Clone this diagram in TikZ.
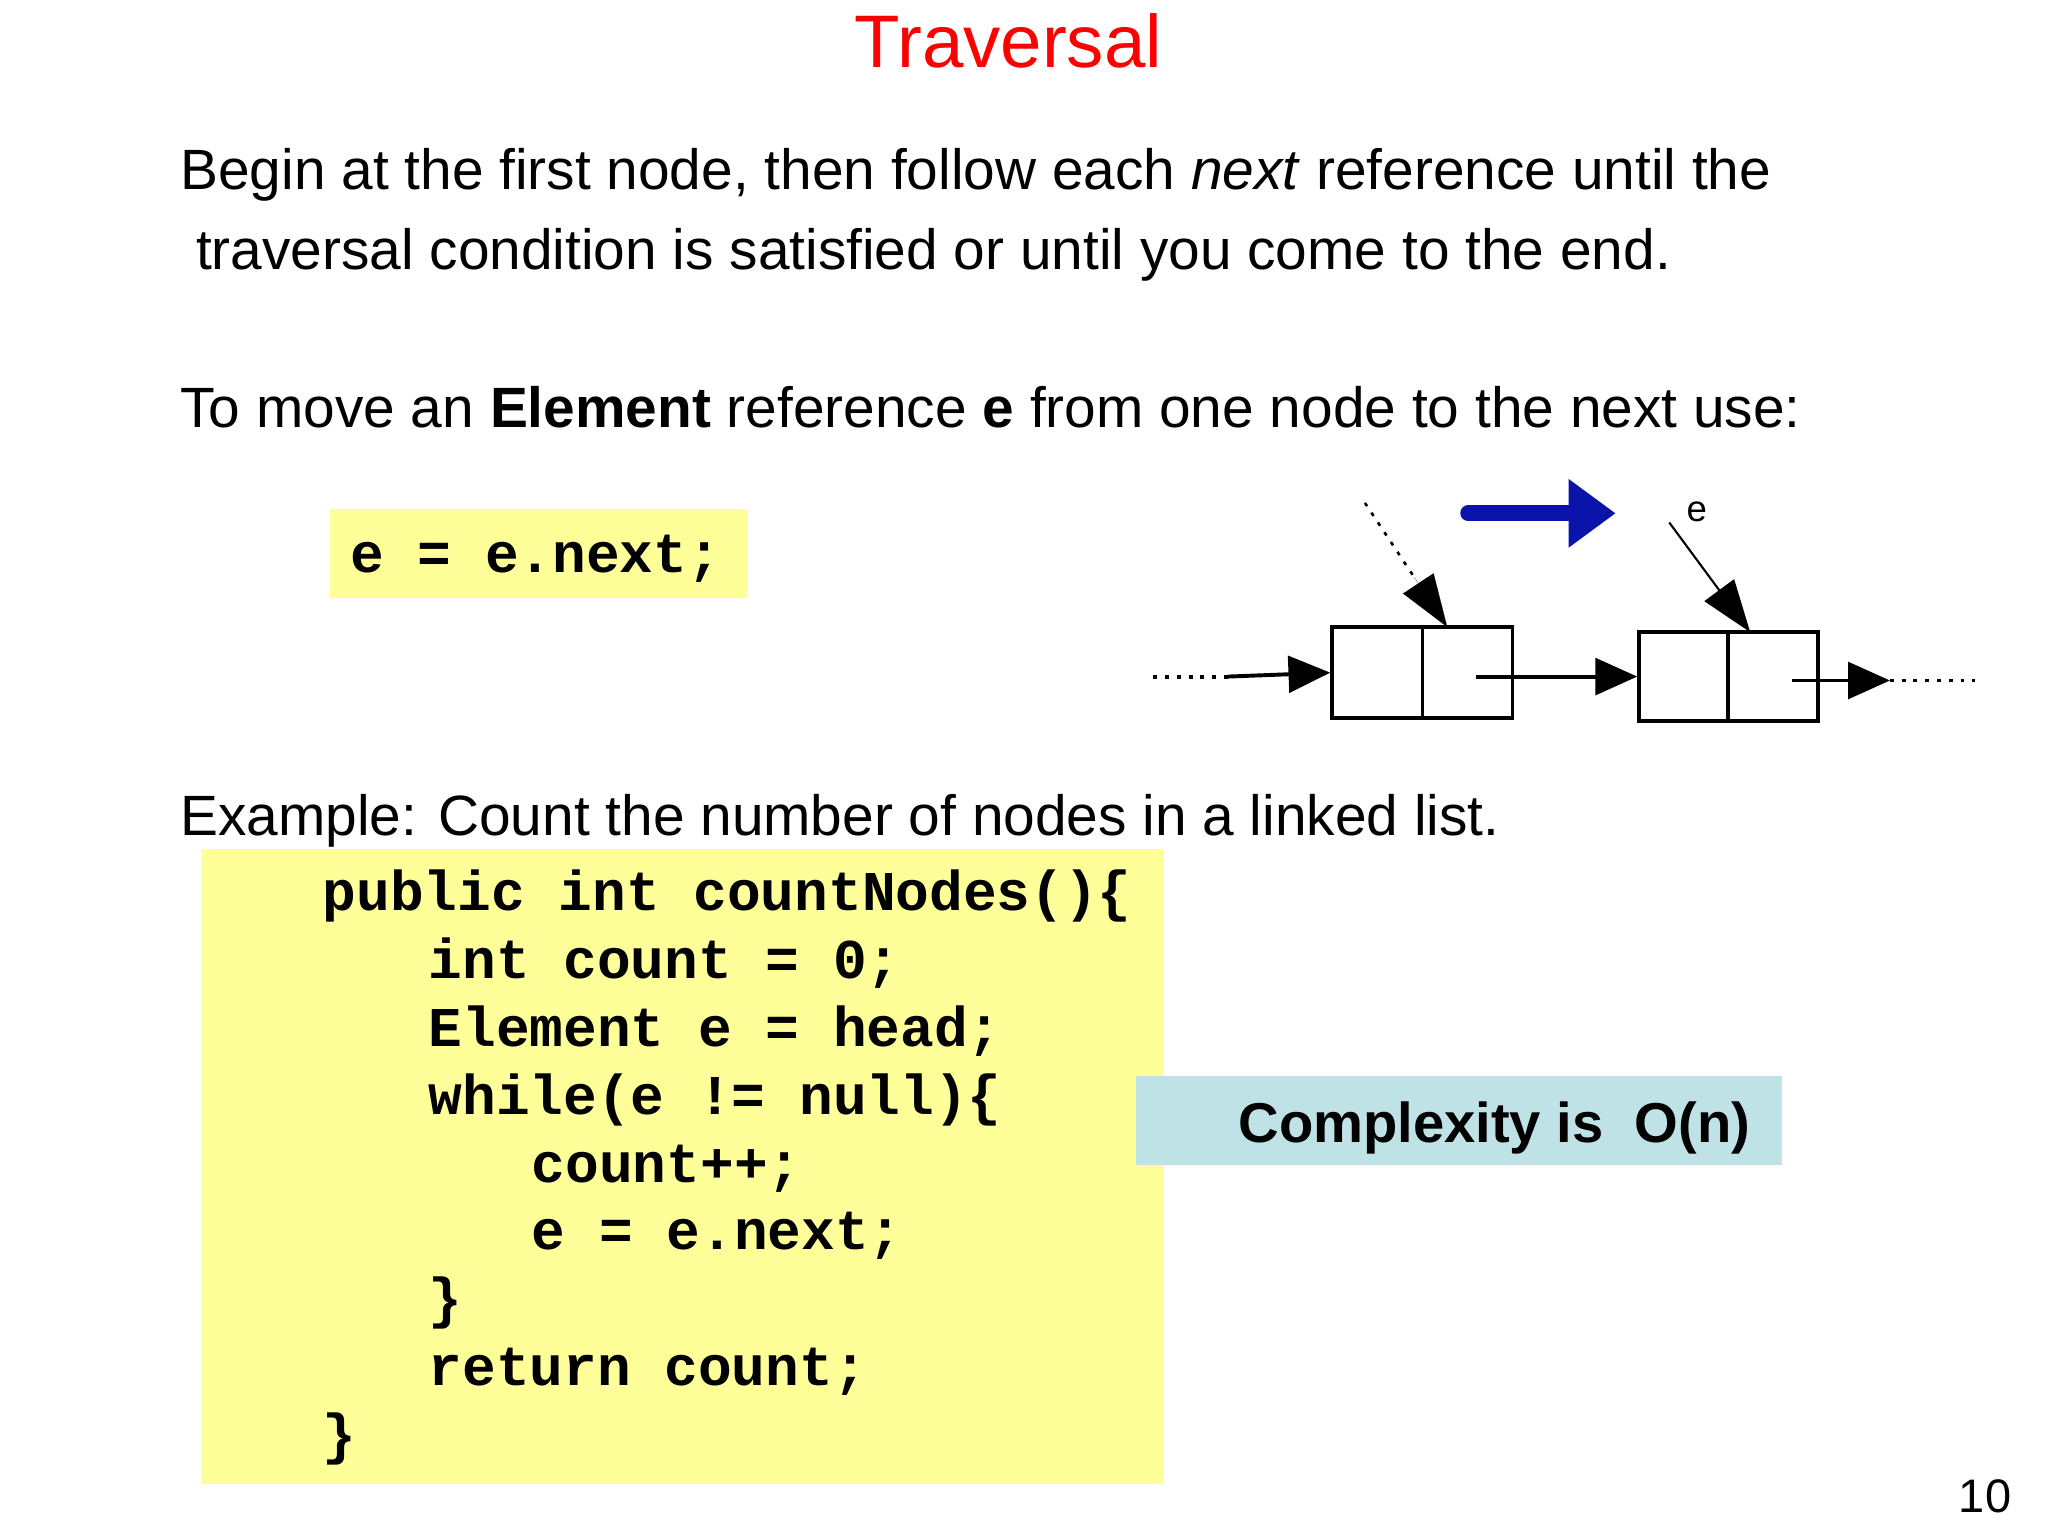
\documentclass[tikz,border=0pt]{standalone}
\usepackage{fontspec}
\setmainfont{Liberation Sans}
\newfontfamily\codefont{Liberation Mono}
\usetikzlibrary{arrows.meta,calc}
\definecolor{codeyel}{RGB}{255,255,153}
\definecolor{cblue}{RGB}{190,226,230}
\definecolor{arrblue}{RGB}{10,20,170}
\definecolor{titlered}{RGB}{255,0,0}
\begin{document}
\begin{tikzpicture}[x=1pt,y=-1pt,
  txt/.style={anchor=base west,inner sep=0,font=\fontsize{43.5}{50}\selectfont},
  code/.style={anchor=base west,inner sep=0,font=\codefont\bfseries\fontsize{43}{50}\selectfont},
  lnk/.style={line width=3pt,-{Triangle[length=32pt,width=28pt]}},
  dot/.style={line width=3pt,dash pattern=on 3pt off 6pt}]
\useasboundingbox (0,0) rectangle (1568,1176);
\fill[white] (0,0) rectangle (1568,1176);
\node[anchor=base,inner sep=0,text=titlered,font=\fontsize{57}{62}\selectfont] (title) at (772,52) {Traversal};
\node[txt] (l1) at (138,145) {Begin at the first node, then follow each \textit{next} reference until the};
\node[txt] (l2) at (150,206) {traversal condition is satisfied or until you come to the end.};
\node[txt] (l3) at (138,327) {To move an \textbf{Element} reference \textbf{e} from one node to the next use:};
\fill[codeyel] (253,390) rectangle (572,458);
\node[code] (c0) at (268,438) {e = e.next;};
% diagram
\node[draw,line width=3pt,minimum width=138pt,minimum height=70pt,inner sep=0] (b1) at (1089,515) {};
\draw[line width=2.5pt] (1089,480) -- (1089,550);
\node[draw,line width=3pt,minimum width=137pt,minimum height=68pt,inner sep=0] (b2) at (1323.5,518) {};
\draw[line width=2.5pt] (1323,484) -- (1323,552);
\coordinate (ls) at (883,518); \coordinate (lm) at (940,518);
\draw[dot] (ls) -- (lm);
\draw[lnk] (lm) -- (b1.west);
\coordinate (ms) at (1130,518);
\draw[lnk] (ms) -- (b2.west);
\coordinate (rs) at (1372,521); \coordinate (re) at (1447,521); \coordinate (rd) at (1512,521);
\draw[lnk] (rs) -- (re);
\draw[dot] (re) -- (rd);
\coordinate (p1) at (1045,385); \coordinate (p1e) at (1108,480);
\draw[dot,line width=2pt] (p1) -- ($(p1)!0.6!(p1e)$);
\draw[line width=0.1pt,-{Triangle[length=40pt,width=28pt]}] ($(p1)!0.6!(p1e)$) -- (p1e);
\coordinate (p2) at (1278,400); \coordinate (p2e) at (1340,484);
\draw[line width=1.6pt,-{Triangle[length=40pt,width=28pt]}] (p2) -- (p2e);
\node[inner sep=0,font=\fontsize{28}{30}\selectfont] (elab) at (1299,392) {e};
\coordinate (ba) at (1124,393); \coordinate (bb) at (1237,393);
\draw[arrblue,line width=12pt,line cap=round,-{Triangle[length=36pt,width=50pt]}] (ba) -- (bb);
% example
\node[txt] (ex) at (138,640) {Example: Count the number of nodes in a linked list.};
\fill[codeyel] (154,650) rectangle (891,1136);
\node[code] (k1) at (247,697) {public int countNodes()\{};
\node[code] (k2) at (328,749) {int count = 0;};
\node[code] (k3) at (328,801) {Element e = head;};
\node[code] (k4) at (328,853) {while(e != null)\{};
\node[code] (k5) at (407,905) {count++;};
\node[code] (k6) at (407,957) {e = e.next;};
\node[code] (k7) at (328,1009) {\}};
\node[code] (k8) at (328,1061) {return count;};
\node[code] (k9) at (247,1113) {\}};
\fill[cblue] (870,824) rectangle (1364,892);
\node[anchor=base west,inner sep=0,font=\bfseries\fontsize{43}{48}\selectfont] (cx) at (948,875) {Complexity is\ \ O(n)};
\node[anchor=base east,inner sep=0,font=\fontsize{36}{40}\selectfont] (pg) at (1540,1158) {10};
\end{tikzpicture}
\end{document}
